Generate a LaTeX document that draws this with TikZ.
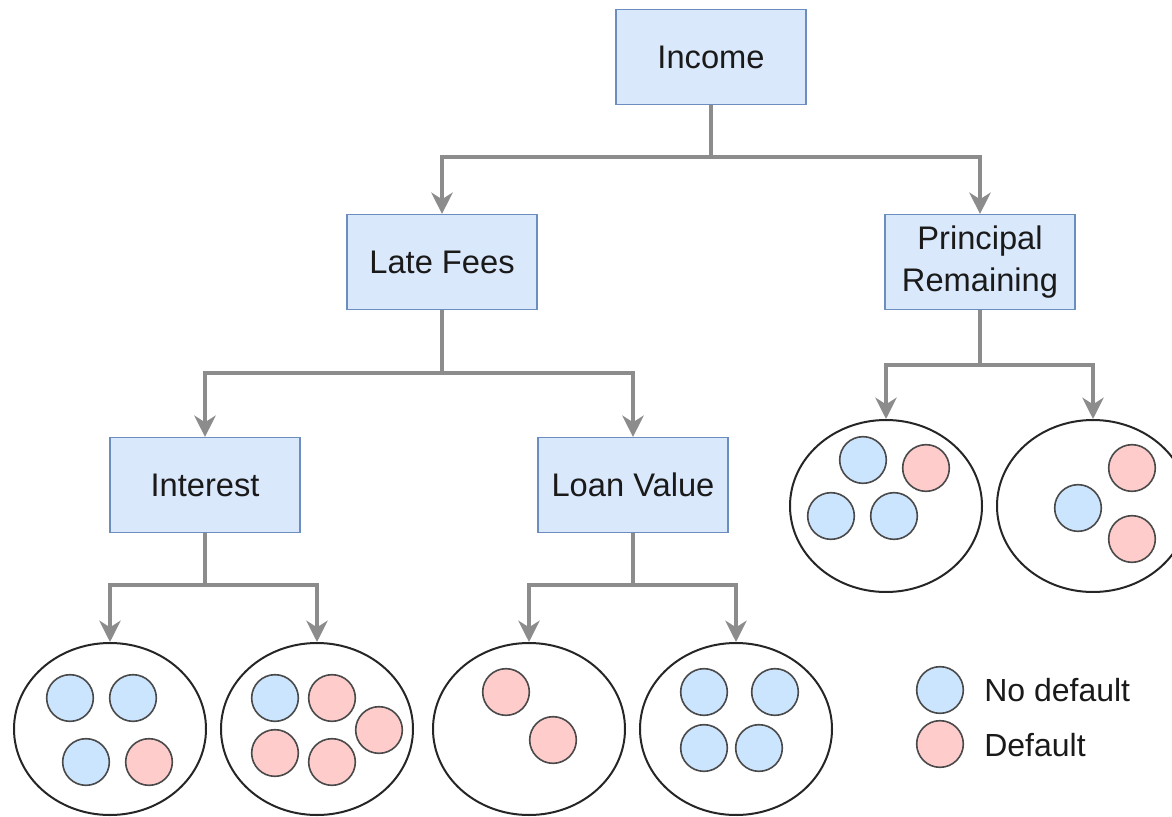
\documentclass[tikz,border=0pt]{standalone}
\usepackage{fontspec}
\setmainfont{Liberation Sans}
\usetikzlibrary{shapes.geometric,arrows.meta}
\definecolor{boxfill}{HTML}{DAE8FC}
\definecolor{boxline}{HTML}{6C8EBF}
\definecolor{nofill}{HTML}{CCE5FF}
\definecolor{yesfill}{HTML}{FFCCCC}
\definecolor{ballline}{HTML}{4A4A4A}
\definecolor{connc}{HTML}{8C8C8C}
\definecolor{txt}{HTML}{1A1A1A}
\tikzset{
  featbox/.style={draw=boxline, fill=boxfill, line width=1.1pt, minimum width=142.5pt, minimum height=71pt, align=center, font=\fontsize{24.5}{31}\selectfont, text=txt, inner sep=0pt},
  leaf/.style={draw=black!85, ellipse, line width=1.5pt, minimum width=144pt, minimum height=129pt, inner sep=0pt},
  ballno/.style={draw=ballline, fill=nofill, circle, line width=1.2pt, minimum size=35pt, inner sep=0pt},
  ballyes/.style={draw=ballline, fill=yesfill, circle, line width=1.2pt, minimum size=35pt, inner sep=0pt},
  conn/.style={draw=connc, line width=3pt},
  arr/.style={conn, -{Stealth[length=16pt,width=16pt,inset=5pt]}},
  legtext/.style={anchor=west, font=\fontsize{24}{28}\selectfont, text=txt, inner sep=0pt}
}
\begin{document}
\begin{tikzpicture}[x=0.75pt,y=-0.75pt]
\useasboundingbox (0,0) rectangle (1172,817);
\clip (0,0) rectangle (1172,817);
% feature boxes
\node[featbox] (inc) at (711,57) {Income};
\node[featbox] (late) at (442,262) {Late Fees};
\node[featbox] (prin) at (980,262) {Principal\\Remaining};
\node[featbox] (int) at (205,485) {Interest};
\node[featbox] (loan) at (633,485) {Loan Value};
% leaves
\node[leaf] (e1) at (110,729) {};
\node[leaf] (e2) at (317,729) {};
\node[leaf] (e3) at (529,729) {};
\node[leaf] (e4) at (736,729) {};
\node[leaf] (e5) at (886,506) {};
\node[leaf] (e6) at (1093,506) {};
% junctions
\coordinate (j1) at (711,157);
\coordinate (j2) at (442,373);
\coordinate (j3) at (980,365);
\coordinate (j4) at (205,585);
\coordinate (j5) at (633,585);
\draw[conn] (inc.south) -- (j1);
\draw[arr] (j1) -| (late.north);
\draw[arr] (j1) -| (prin.north);
\draw[conn] (late.south) -- (j2);
\draw[arr] (j2) -| (int.north);
\draw[arr] (j2) -| (loan.north);
\draw[conn] (prin.south) -- (j3);
\draw[arr] (j3) -| (e5.north);
\draw[arr] (j3) -| (e6.north);
\draw[conn] (int.south) -- (j4);
\draw[arr] (j4) -| (e1.north);
\draw[arr] (j4) -| (e2.north);
\draw[conn] (loan.south) -- (j5);
\draw[arr] (j5) -| (e3.north);
\draw[arr] (j5) -| (e4.north);
% balls e1
\node[ballno] (a1) at (70,698) {};
\node[ballno] (a2) at (133,698) {};
\node[ballno] (a3) at (86,762) {};
\node[ballyes] (a4) at (149,762) {};
% e2
\node[ballno] (b1) at (275,698) {};
\node[ballyes] (b2) at (332,698) {};
\node[ballyes] (b3) at (379,730) {};
\node[ballyes] (b4) at (275,753) {};
\node[ballyes] (b5) at (332,762) {};
% e3
\node[ballyes] (c1) at (506,692) {};
\node[ballyes] (c2) at (553,740) {};
% e4
\node[ballno] (d1) at (704,692) {};
\node[ballno] (d2) at (775,692) {};
\node[ballno] (d3) at (704,748) {};
\node[ballno] (d4) at (759,748) {};
% e5
\node[ballno] (f1) at (863,460) {};
\node[ballyes] (f2) at (926,468) {};
\node[ballno] (f3) at (831,516) {};
\node[ballno] (f4) at (894,516) {};
% e6
\node[ballyes] (g1) at (1132,468) {};
\node[ballno] (g2) at (1078,508) {};
\node[ballyes] (g3) at (1132,539) {};
% legend
\node[ballno] (l1) at (940,690) {};
\node[ballyes] (l2) at (940,744) {};
\node[legtext] (t1) at (984,690) {No default};
\node[legtext] (t2) at (984,745) {Default};
\end{tikzpicture}
\end{document}
